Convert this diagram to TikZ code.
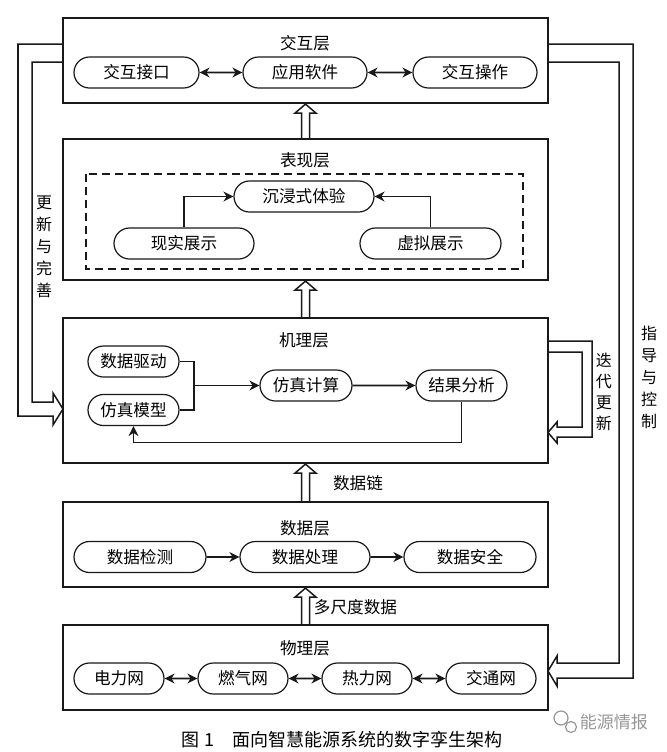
\documentclass[tikz,border=0pt]{standalone}
\usepackage{fontspec}
\setmainfont{Noto Sans CJK SC}
\usepackage{tikz}
\usetikzlibrary{shapes.misc}
\usetikzlibrary{arrows.meta}
\usetikzlibrary{calc}
\definecolor{Col1}{RGB}{25,25,25}
\definecolor{Col5}{RGB}{150,150,150}
\tikzstyle{Layer}=[draw=Col1,line width=1.1pt,minimum width=242.5pt,inner sep=0pt]
\tikzstyle{Pill}=[rounded rectangle,draw=Col1,line width=0.6pt,
minimum height=15.5pt,inner sep=0pt,font=\fontsize{8.3}{9}\selectfont]
\tikzstyle{Title}=[font=\fontsize{8.3}{9}\selectfont]
\tikzstyle{Vert}=[font=\fontsize{8}{11}\selectfont,align=center]
\tikzstyle{Edge}=[draw=Col1,line width=0.8pt]
\tikzstyle{Arrow}=[Edge,-{Stealth[length=5pt,width=5pt]}]
\tikzstyle{BiArrow}=[Edge,{Stealth[length=5pt,width=5pt]}-{Stealth[length=5pt,width=5pt]}]
\tikzstyle{Hollow}=[draw=Col1,line width=0.75pt,line join=miter]
\newcommand{\UpArrow}[2]{\draw[Hollow]($(#1.north)+(-4,0)$)--($(#2.south)+(-4,9)$)
    --($(#2.south)+(-10.5,9)$)--(#2.south)--($(#2.south)+(10.5,9)$)
    --($(#2.south)+(4,9)$)--($(#1.north)+(4,0)$);}

\begin{document}
\begin{tikzpicture}[x=0.5pt,y=-0.5pt]
            \useasboundingbox (0,0) rectangle (667,752);
            % layers
            \node[Layer,minimum height=42.5pt](jh)at(305.5,60.5){};
            \node[Layer,minimum height=70.5pt](bx)at(305.5,209.5){};
            \node[Layer,minimum height=72.5pt](jl)at(305.5,390.5){};
            \node[Layer,minimum height=42.5pt](sj)at(305.5,544.5){};
            \node[Layer,minimum height=42.5pt](wl)at(305.5,667.5){};
            \node[Title](jhT)at(305,43){交互层};
            \node[Title](bxT)at(305,160){表现层};
            \node[Title](jlT)at(304,340){机理层};
            \node[Title](sjT)at(305,528){数据层};
            \node[Title](wlT)at(305,648){物理层};
            % interaction layer
            \node[Pill,minimum width=62.5pt](jhjk)at(136.5,72.5){交互接口};
            \node[Pill,minimum width=62pt](yyrj)at(305,72.5){应用软件};
            \node[Pill,minimum width=62pt](jhcz)at(475,72.5){交互操作};
            \draw[BiArrow](jhjk)--(yyrj);
            \draw[BiArrow](yyrj)--(jhcz);
            % presentation layer
            \draw[Edge,line width=0.9pt,dash pattern=on 4pt off 2.5pt]
                (86,174) rectangle (523,269);
            \node[Pill,minimum width=70pt](cjsty)at(304,196.5){沉浸式体验};
            \node[Pill,minimum width=70pt](xszs)at(184,243.5){现实展示};
            \node[Pill,minimum width=70.5pt](xnzs)at(430.5,243.5){虚拟展示};
            \draw[Arrow](xszs.north)|-(cjsty.west);
            \draw[Arrow](xnzs.north)|-(cjsty.east);
            % mechanism layer
            \node[Pill,minimum width=45.5pt](sjqd)at(133.5,361.5){数据驱动};
            \node[Pill,minimum width=45.5pt](fzmx)at(133.5,410){仿真模型};
            \node[Pill,minimum width=46pt](fzjs)at(306,385.5){仿真计算};
            \node[Pill,minimum width=45.5pt](jgfx)at(461.5,385.5){结果分析};
            \coordinate(merge)at(194,385.5);
            \draw[Edge](sjqd.east)-|(merge)|-(fzmx.east);
            \draw[Arrow](merge)--(fzjs.west);
            \draw[Arrow](fzjs)--(jgfx);
            \draw[Arrow](jgfx.south)--++(0,41)-|(fzmx.south);
            % data layer
            \node[Pill,minimum width=66pt](sjjc)at(140,557){数据检测};
            \node[Pill,minimum width=65pt](sjcl)at(305,557){数据处理};
            \node[Pill,minimum width=66pt](sjaq)at(470,557){数据安全};
            \draw[Arrow](sjjc)--(sjcl);
            \draw[Arrow](sjcl)--(sjaq);
            % physical layer
            \node[Pill,minimum width=45pt](dlw)at(119,678.5){电力网};
            \node[Pill,minimum width=45pt](rqw)at(243,678.5){燃气网};
            \node[Pill,minimum width=45pt](rlw)at(367,678.5){热力网};
            \node[Pill,minimum width=45pt](jtw)at(491,678.5){交通网};
            \draw[BiArrow](dlw)--(rqw);
            \draw[BiArrow](rqw)--(rlw);
            \draw[BiArrow](rlw)--(jtw);
            % between layers
            \UpArrow{bx}{jh}
            \UpArrow{jl}{bx}
            \UpArrow{sj}{jl}
            \UpArrow{wl}{sj}
            \node[Title](sjl)at(358,483){数据链};
            \node[Title](dccsj)at(355.5,607){多尺度数据};
            % feedback loops
            \draw[Hollow](63,44)--(18,44)--(18,416)--(53,416)--(53,425)--(63,409)
                --(53,393)--(53,402)--(32,402)--(32,62)--(63,62);
            \node[Vert](gxws)at(44,247){更\\新\\与\\完\\善};
            \draw[Hollow](548,44)--(633,44)--(633,678)--(557,678)--(557,686)--(548,671)
                --(557,656)--(557,663)--(619,663)--(619,62)--(548,62);
            \node[Vert](zdkz)at(649,377){指\\导\\与\\控\\制};
            \draw[Hollow](548,341)--(592,341)--(592,437)--(557,437)--(557,443)--(548,432.5)
                --(557,422)--(557,427)--(582,427)--(582,352)--(548,352);
            \node[Vert,font=\fontsize{8}{10.5}\selectfont](ddgx)at(604,392){迭\\代\\更\\新};
            % caption
            \node[font=\fontsize{9}{10}\selectfont](cap)at(342,740)
                {图~1\quad 面向智慧能源系统的数字孪生架构};
            \draw[Col5,line width=0.6pt](561,718) circle (7);
            \draw[Col5,line width=0.6pt](571,727) circle (5.5);
            \node[Title,text=Col5,font=\fontsize{8.5}{9}\selectfont](nyqb)at(614,722){能源情报};
        \end{tikzpicture}
\end{document}
